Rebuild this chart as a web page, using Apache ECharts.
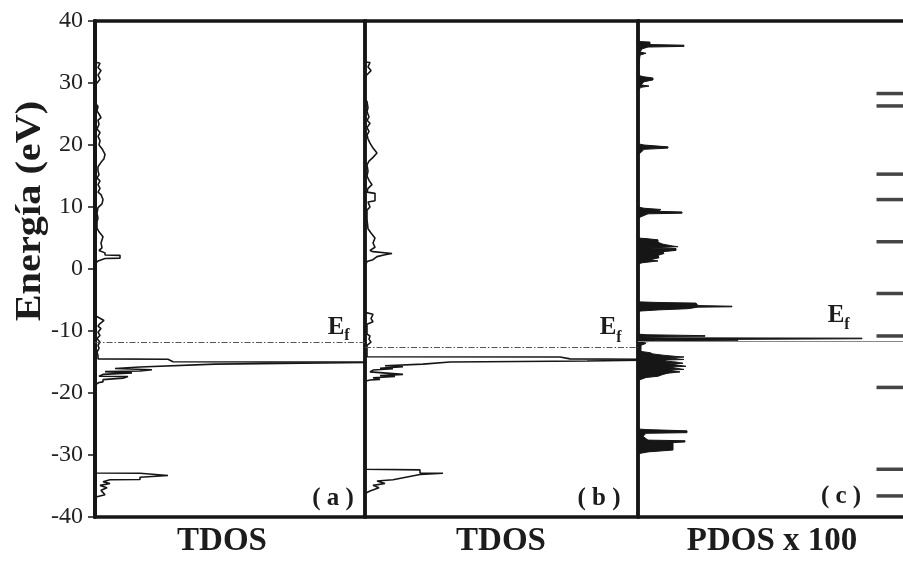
<!DOCTYPE html>
<html><head><meta charset="utf-8">
<script src="https://cdn.jsdelivr.net/npm/echarts@6/dist/echarts.min.js"></script>
<style>html,body{margin:0;padding:0;background:#fff}#c{width:903px;height:569px}</style>
</head><body><div id="c"></div>
<script>
// ---- data (energy in eV, DOS in arbitrary units) ----
const energyMin = -40, energyMax = 40, energyStep = 10;
const panelTitles = ['TDOS', 'TDOS', 'PDOS x 100'];
const panelTags = ['( a )', '( b )', '( c )'];
const fermiLevels = [-11.75, -12.7, -11.7];
const dosMax = [270, 273, 265];

// [energy, dos]
const tdosA = [
 [40,0],[33.4,0],[33.2,5],[32.5,3],[32,6],[31.3,3],[30.6,5],[30,2],[29.6,0],[27.5,0],
 [27.2,2],[26.6,1],[26.2,3],[25.5,2],[25,4],[24.4,6],[24,3],[23.3,4],[22.6,2],[22,5],
 [21.4,3],[20.7,5],[20,4],[19.4,7],[18.5,10],[17.8,9],[17.2,6],[16.5,3],[15.8,3],[15.2,4],
 [14.7,2],[14.2,5],[13.6,3],[13,5],[12.4,3],[12,6],[11.2,8],[10.5,7],[9.9,3],[9,2],
 [8.2,3],[7.6,2],[6.6,2],[6,4],[5.2,8],[4.2,6],[3.4,7],[3,4],[2.6,10],[2.25,10],
 [2.2,25],[1.75,25],[1.7,10],[1.3,3],[0.8,0],[-2.3,0],[-2.5,1.5],[-2.7,0],[-7.5,0],[-7.8,2],
 [-8.3,9],[-8.8,5],[-9.2,3],[-9.6,6],[-10.2,3],[-10.7,5],[-11.2,2],[-11.8,5],[-12.3,3],[-12.8,4],
 [-13.4,2],[-14,3],[-14.5,3],[-14.55,73],[-14.95,78],[-15,320],[-15.3,320],[-15.35,120],[-15.8,45],[-16,45],
 [-16.05,20],[-16.2,20],[-16.25,57],[-16.4,57],[-16.45,45],[-16.55,10],[-16.7,10],[-16.75,37],[-16.95,37],[-17,8],
 [-17.3,4],[-17.35,33],[-17.55,33],[-17.6,28],[-17.8,28],[-17.85,8],[-18.2,8],[-18.3,4],[-18.7,0],[-23.2,0],
 [-23.4,1.5],[-23.6,0],[-32.9,0],[-32.95,45],[-33.2,45],[-33.3,73],[-33.5,73],[-33.6,45],[-33.95,45],[-34,15],
 [-34.3,8],[-34.6,15],[-34.9,5],[-35.3,12],[-35.7,6],[-36,8],[-36.4,10],[-36.8,0],[-40,0]
];
const tdosB = [
 [40,0],[33.4,0],[33.3,5],[32.6,3],[32,6],[31.5,3],[31,0],[27.5,0],[27,2],[26,3],
 [25.4,2],[24.5,4],[24,2],[23.5,5],[22.8,2],[22.2,4],[21.6,2],[21,3],[20.3,5],[19.5,8],
 [18.7,12],[18,8],[17.4,4],[16.8,2],[15.8,3],[15,2],[14.3,4],[13.6,7],[13,3],[12.4,2],
 [12.2,10],[11,10],[10.8,3],[10,5],[9.5,2],[8,2],[6.5,3],[5.8,6],[5,10],[4.2,8],
 [3.5,10],[3,5],[2.8,8],[2.5,27],[2.3,20],[2,12],[1.5,8],[1.2,2],[0.5,0],[-3,0],
 [-7,0],[-7.3,8],[-8,6],[-8.5,8],[-8.9,2],[-10.5,2],[-10.8,5],[-11.3,4],[-11.8,6],[-12.3,2],
 [-14.15,2],[-14.2,195],[-14.5,205],[-14.6,330],[-14.8,330],[-14.85,222],[-15,85],[-15.3,85],[-15.35,58],[-15.55,58],
 [-15.6,20],[-15.7,20],[-15.75,38],[-15.95,38],[-16,15],[-16.1,28],[-16.25,28],[-16.3,8],[-16.6,5],[-16.9,5],
 [-17,38],[-17.15,38],[-17.2,15],[-17.35,30],[-17.5,30],[-17.55,8],[-17.8,15],[-17.9,5],[-18.1,0],[-22.6,0],
 [-22.8,1.5],[-23,0],[-32.3,0],[-32.4,55],[-32.9,55],[-32.95,78],[-33.1,78],[-33.15,55],[-33.4,55],[-34,28],
 [-34.2,12],[-34.6,20],[-34.9,8],[-35.3,14],[-35.8,5],[-36.2,0],[-40,0]
];
const pdosC = [
 [40,0],[36.7,0],[36.6,12],[36.2,12],[36.1,46],[35.9,46],[35.8,10],[35.5,4],[35,2],[34.8,8],
 [34.5,2],[33,1],[31.2,1],[31,6],[30.8,15],[30.5,15],[30.2,6],[29.7,3],[29.5,11],[29.3,3],
 [28.8,0],[20.2,0],[20,6],[19.7,30],[19.5,30],[19.3,6],[18.8,3],[18.5,0],[10,0],[9.8,6],
 [9.6,23],[9.3,20],[9.2,44],[9,44],[8.9,10],[8.5,4],[8.2,0],[5,0],[4.9,8],[4.7,20],
 [4.3,20],[4,25],[3.7,35],[3.6,40],[3.4,12],[3.3,38],[3,38],[2.8,25],[2.5,26],[2.2,20],
 [1.8,21],[1.5,12],[1.3,20],[1,4],[0.8,0],[-5.3,0],[-5.4,20],[-5.5,58],[-5.9,60],[-6.0,94],
 [-6.1,94],[-6.15,60],[-6.4,50],[-6.6,20],[-6.8,0],[-10.5,0],[-10.6,8],[-10.75,67],[-10.85,67],[-10.9,5],
 [-11.05,5],[-11.1,30],[-11.15,224],[-11.25,224],[-11.3,170],[-11.35,100],[-11.5,100],[-11.55,20],[-11.8,5],[-12,8],
 [-12.3,3],[-13.3,3],[-13.5,12],[-13.7,15],[-13.9,25],[-14.1,38],[-14.2,46],[-14.3,30],[-14.5,40],[-14.6,46],
 [-14.7,25],[-14.9,30],[-15,38],[-15.2,45],[-15.3,30],[-15.5,40],[-15.7,48],[-15.8,32],[-16,38],[-16.2,46],
 [-16.3,30],[-16.6,42],[-16.8,30],[-17,25],[-17.3,20],[-17.5,8],[-17.8,3],[-18,0],[-25.8,0],[-25.9,8],
 [-26.1,49],[-26.4,49],[-26.5,8],[-27,5],[-27.6,10],[-27.7,47],[-27.9,47],[-28,35],[-29.2,35],[-29.5,10],
 [-29.8,0],[-40,0]
];
const levelsC = [28.3, 26.3, 15.3, 11.2, 4.4, -3.95, -10.8, -19.1, -32.3, -36.6];

// ---- chart ----
const FONT = '"Liberation Serif", "Times New Roman", serif';
const INK = '#161616';
const BW = 3.5;
const chart = echarts.init(document.getElementById('c'), null, {renderer: 'canvas'});
const lefts = [95, 365, 638];
const grids = lefts.map((l, i) => ({
  left: l, top: 21, width: dosMax[i], height: 496,
  show: i < 2, borderColor: INK, borderWidth: BW, backgroundColor: 'transparent'
}));
const frameLine = {show: true, onZero: false, lineStyle: {color: INK, width: BW}};
const xAxes = dosMax.map((m, i) => ({
  gridIndex: i, type: 'value', min: 0, max: m, show: i === 2, position: 'bottom',
  axisLine: frameLine, axisTick: {show: false}, axisLabel: {show: false}, splitLine: {show: false}
}));
xAxes.push({gridIndex: 2, type: 'value', min: 0, max: dosMax[2], position: 'top',
  axisLine: frameLine, axisTick: {show: false}, axisLabel: {show: false}, splitLine: {show: false}});
const yAxes = [0, 1, 2].map(i => ({
  gridIndex: i, type: 'value', min: energyMin, max: energyMax, interval: energyStep,
  show: i !== 1, position: 'left',
  axisLine: {show: true, onZero: false, lineStyle: {color: INK, width: i === 0 ? 4 : BW}},
  axisTick: {show: i === 0, inside: false, length: 7, lineStyle: {color: INK, width: 1.5}},
  axisLabel: {show: i === 0, margin: 12, color: '#222', fontFamily: FONT, fontSize: 24},
  splitLine: {show: false}
}));
const efLine = (v, dashed) => ({
  silent: true, symbol: 'none', label: {show: false},
  lineStyle: dashed ? {color: '#555', width: 1.2, type: [6, 2, 1.5, 2]} : {color: '#888', width: 1.2, type: 'solid'},
  data: [{yAxis: v}]
});
const series = [
  {type: 'line', xAxisIndex: 0, yAxisIndex: 0, data: tdosA.map(([e, d]) => [d, e]),
   symbol: 'none', clip: true, lineStyle: {color: INK, width: 1.6}, markLine: efLine(fermiLevels[0], true)},
  {type: 'line', xAxisIndex: 1, yAxisIndex: 1, data: tdosB.map(([e, d]) => [d, e]),
   symbol: 'none', clip: true, lineStyle: {color: INK, width: 1.6}, markLine: efLine(fermiLevels[1], true)},
  {type: 'custom', xAxisIndex: 2, yAxisIndex: 2, data: pdosC.map(([e, d]) => [d, e]),
   renderItem: (params, api) => {
     if (params.dataIndex !== 0) return null;
     const pts = [api.coord([0, pdosC[0][0]])];
     pdosC.forEach(([e, d]) => pts.push(api.coord([d, e])));
     pts.push(api.coord([0, pdosC[pdosC.length - 1][0]]));
     return {type: 'polygon', shape: {points: pts}, style: {fill: INK, stroke: INK, lineWidth: 1}};
   }},
  {type: 'scatter', xAxisIndex: 2, yAxisIndex: 2, data: levelsC.map(e => [252, e]),
   symbol: 'rect', symbolSize: [27, 3.5], itemStyle: {color: INK}, z: 3,
   markLine: efLine(fermiLevels[2], false)}
];
const txt = (text, x, y, size, extra) => Object.assign({
  type: 'text', x: x, y: y, silent: true,
  style: {text: text, font: 'bold ' + size + 'px ' + FONT, fill: '#1c1c1c',
          textAlign: 'center', align: 'center', textVerticalAlign: 'middle', verticalAlign: 'middle'}
}, extra || {});
const graphic = [
  txt('Energía (eV)', 31, 211, 36, {rotation: Math.PI / 2, scaleX: 1.12}),
  txt(panelTitles[0], 222, 541, 33),
  txt(panelTitles[1], 501, 541, 33),
  txt(panelTitles[2], 772, 541, 33),
  txt(panelTags[0], 333, 499, 25),
  txt(panelTags[1], 599, 499, 25),
  txt(panelTags[2], 841, 497, 25),
  txt('E', 336, 328, 25), txt('f', 347, 336, 16),
  txt('E', 608, 328, 25), txt('f', 619, 338, 16),
  txt('E', 836, 316, 25), txt('f', 847, 325, 16)
];
chart.setOption({
  animation: false, backgroundColor: '#fff',
  grid: grids, xAxis: xAxes, yAxis: yAxes, series: series, graphic: graphic
});
</script></body></html>
